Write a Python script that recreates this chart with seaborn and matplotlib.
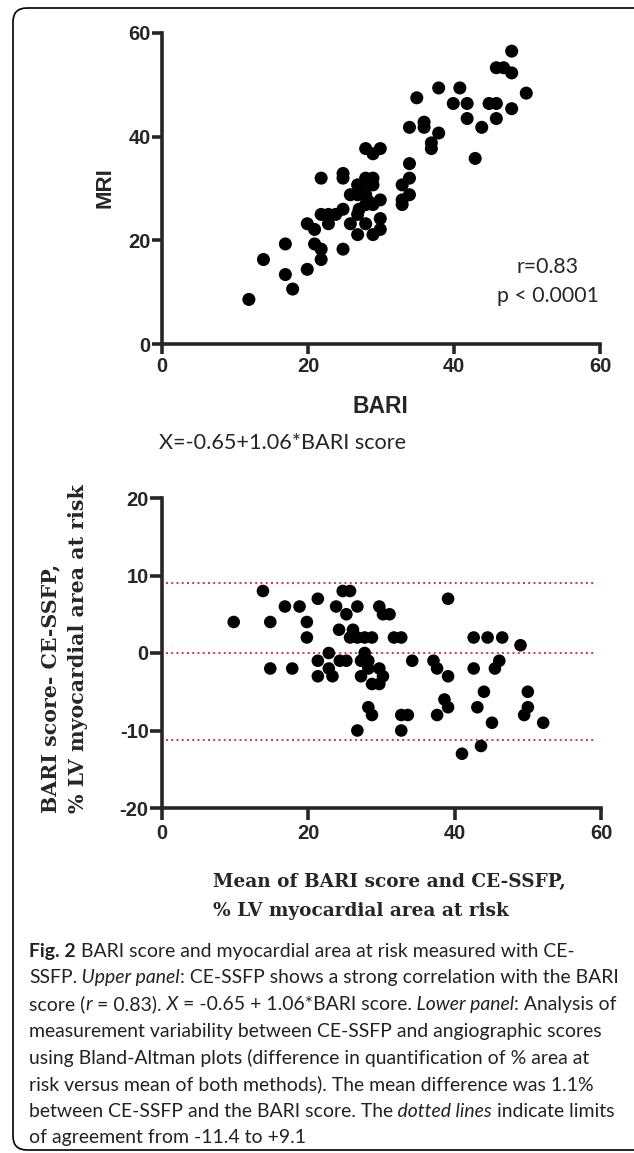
import numpy as np
import pandas as pd
import matplotlib
matplotlib.use("Agg")
import matplotlib.pyplot as plt
from matplotlib.patches import FancyBboxPatch
import seaborn as sns

# upper panel: BARI vs MRI
bari = [11.9, 13.9, 16.9, 16.9, 17.9, 19.9, 19.9, 20.9, 20.9, 21.8, 21.8, 21.8, 21.8,
        22.8, 22.8, 23.8, 24.8, 24.8, 24.8, 24.8, 25.8, 25.8, 26.8, 26.8, 26.8, 26.8,
        27.9, 27.9, 27.9, 27.9, 27.9, 28.9, 28.9, 28.9, 28.9, 28.9, 29.9, 29.9, 29.9,
        29.9, 32.9, 32.9, 32.9, 33.9, 33.9, 33.9, 33.9, 34.9, 35.9, 35.9, 36.9, 36.9,
        37.9, 37.9, 39.9, 40.8, 41.8, 41.8, 42.9, 43.8, 44.8, 45.8, 45.8, 45.8, 46.8,
        47.9, 47.9, 47.9, 49.9, 27.3, 28.3, 27.0]
mri = [8.6, 16.3, 19.3, 13.4, 10.6, 14.4, 23.2, 22.1, 19.3, 18.3, 16.3, 32.0, 25.0,
       25.0, 23.2, 25.0, 26.0, 18.3, 32.9, 32.0, 23.2, 28.8, 30.7, 28.8, 25.0, 21.1,
       37.7, 32.0, 28.8, 26.9, 23.2, 36.7, 32.0, 30.7, 26.9, 21.1, 37.7, 27.8, 24.2,
       22.1, 30.7, 27.8, 26.9, 34.8, 32.0, 28.8, 41.8, 47.5, 42.8, 41.8, 38.8, 37.7,
       40.7, 49.4, 46.4, 49.4, 46.4, 43.5, 35.8, 41.8, 46.4, 46.4, 43.5, 53.3, 53.3,
       52.3, 56.5, 45.4, 48.4, 30.0, 27.5, 26.0]

# lower panel: Bland-Altman
ba_mean = [9.8, 13.8, 14.8, 14.8, 16.8, 17.8, 18.8, 19.8, 19.8, 21.3, 21.3, 21.3, 22.8,
           22.8, 23.3, 23.8, 24.2, 24.3, 25.2, 24.7, 25.7, 25.2, 26.1, 25.7, 26.7, 26.7,
           27.7, 28.7, 27.7, 27.2, 28.2, 27.2, 28.2, 28.7, 29.7, 29.7, 30.2, 29.7, 30.2,
           31.1, 31.7, 32.7, 34.2, 37.1, 37.6, 39.1, 39.1, 42.6, 44.5, 46.5, 49.0, 42.6,
           45.5, 46.1, 44.0, 50.0, 28.2, 28.7, 32.7, 33.6, 37.6, 38.6, 39.1, 43.1, 50.0,
           49.5, 45.1, 52.1, 26.7, 32.7, 41.0, 43.6]
ba_diff = [4, 8, 4, -2, 6, -2, 6, 4, 2, 7, -1, -3, 0,
           -2, -3, 6, 3, -1, -1, 8, 8, 5, 3, 2, 6, 2,
           2, 2, 0, -1, -1, -3, -2, -4, -4, -2, -3, 6, 5,
           5, 2, 2, -1, -1, -2, -3, 7, 2, 2, 2, 1, -2,
           -2, -1, -5, -5, -7, -8, -8, -8, -8, -6, -7, -7, -7,
           -8, -9, -9, -10, -10, -13, -12]
ba_lines = [9.0, 0.0, -11.2]

caption = [
    [("Fig. 2", "normal", "bold"), (" BARI score and myocardial area at risk measured with CE-", "normal", "normal")],
    [("SSFP.", "normal", "normal"), (" Upper panel", "italic", "normal"),
     (": CE-SSFP shows a strong correlation with the BARI", "normal", "normal")],
    [("score (", "normal", "normal"), ("r", "italic", "normal"), (" = 0.83).", "normal", "normal"),
     (" X", "italic", "normal"), (" = -0.65 + 1.06*BARI score.", "normal", "normal"),
     (" Lower panel", "italic", "normal"), (": Analysis of", "normal", "normal")],
    [("measurement variability between CE-SSFP and angiographic scores", "normal", "normal")],
    [("using Bland-Altman plots (difference in quantification of % area at", "normal", "normal")],
    [("risk versus mean of both methods). The mean difference was 1.1%", "normal", "normal")],
    [("between CE-SSFP and the BARI score. The", "normal", "normal"), (" dotted lines", "italic", "normal"),
     (" indicate limits", "normal", "normal")],
    [("of agreement from -11.4 to +9.1", "normal", "normal")],
]

W, H = 634, 1153
sns.set_style("ticks")
plt.rcParams['font.family'] = ['Liberation Sans', 'DejaVu Sans']
plt.rcParams['axes.unicode_minus'] = False

fig = plt.figure(figsize=(W / 100, H / 100), dpi=100)
renderer = fig.canvas.get_renderer()

# overlay in pixel coords for frame and free text
bg = fig.add_axes([0, 0, 1, 1], zorder=-1)
bg.set_xlim(0, W)
bg.set_ylim(H, 0)
bg.axis("off")
bg.add_patch(FancyBboxPatch((13, 8), 700, 1142, boxstyle="round,pad=0,rounding_size=14",
                            fill=False, lw=1.2, ec="black"))


def fit_text(x, y, s, length, vertical=False, **kw):
    t = bg.text(x, y, s, fontsize=12, **kw)
    bb = t.get_window_extent(renderer)
    w = bb.height if vertical else bb.width
    t.set_fontsize(12 * length / w)
    return t


def style_axes(ax, tl):
    sns.despine(ax=ax)
    ax.set_facecolor("none")
    for s in ["left", "bottom"]:
        ax.spines[s].set_linewidth(2.6)
    ax.tick_params(width=2.6, length=tl, labelsize=14.5, pad=1)
    for lab in ax.get_xticklabels() + ax.get_yticklabels():
        lab.set_fontweight("bold")


# upper panel
ax1 = fig.add_axes([162 / W, 1 - 344 / H, 438 / W, 311 / H])
df1 = pd.DataFrame({"BARI": bari, "MRI": mri})
sns.scatterplot(data=df1, x="BARI", y="MRI", ax=ax1, color="black", s=88, edgecolor="none")
ax1.set_xlim(0, 60)
ax1.set_ylim(0, 60)
ax1.set_xticks([0, 20, 40, 60])
ax1.set_yticks([0, 20, 40, 60])
ax1.set_xlabel("")
ax1.set_ylabel("")
style_axes(ax1, 7.2)
ax1.tick_params(axis="x", pad=2.5)

bg.text(110, 188, "MRI", rotation=90, rotation_mode="anchor", ha="center", va="baseline",
        fontsize=16, fontweight="bold")
bg.text(380, 413, "BARI", ha="center", va="baseline", fontsize=16.5, fontweight="bold")
t_p = fit_text(548, 296, "p < 0.0001", 101, ha="center", va="center", family="Lato")
bg.text(547, 267, "r=0.83", ha="center", va="center", fontsize=t_p.get_fontsize(), family="Lato")
fit_text(159, 443, "X=-0.65+1.06*BARI score", 246, ha="left", va="center", family="Lato")

# lower panel
ax2 = fig.add_axes([162 / W, 1 - 808 / H, 439 / W, 310 / H])
df2 = pd.DataFrame({"mean": ba_mean, "diff": ba_diff})
sns.scatterplot(data=df2, x="mean", y="diff", ax=ax2, color="black", s=82, edgecolor="none", zorder=3)
ax2.hlines(ba_lines, 0.5, 59.3, colors="#e0303f", linestyles=(0, (1, 1.7)), lw=1.4, zorder=2)
ax2.set_xlim(0, 60)
ax2.set_ylim(-20, 20)
ax2.set_xticks([0, 20, 40, 60])
ax2.set_yticks([-20, -10, 0, 10, 20])
ax2.set_xlabel("")
ax2.set_ylabel("")
style_axes(ax2, 8.6)
ax2.tick_params(axis="x", pad=3)

serif = ["DejaVu Serif"]
lab = fit_text(56, 813, "% LV myocardial area at risk", 326, vertical=True, rotation=90,
               rotation_mode="anchor", ha="left", va="baseline", fontweight="bold", family=serif)
lab.set_position((84, 813))
bg.text(56, 813, "BARI score- CE-SSFP,", rotation=90, rotation_mode="anchor", ha="left",
        va="baseline", fontsize=lab.get_fontsize(), fontweight="bold", family=serif)
xl = fit_text(213, 887, "Mean of BARI score and CE-SSFP,", 352, ha="left", va="baseline",
              fontweight="bold", family=serif)
bg.text(213, 916, "% LV myocardial area at risk", ha="left", va="baseline",
        fontsize=xl.get_fontsize(), fontweight="bold", family=serif)

# caption, run by run; size chosen so that line 2 spans the reference width
probe = [bg.text(0, 0, r[0], fontsize=12, fontstyle=r[1], fontweight=r[2], family="Lato")
         for r in caption[1]]
cap_size = 12 * 588 / sum(p.get_window_extent(renderer).width for p in probe)
for p in probe:
    p.remove()

y0, dy = 951, 26.7
for i, runs in enumerate(caption):
    x = 29
    for txt, st, wt in runs:
        t = bg.text(x, y0 + i * dy, txt, ha="left", va="center", fontsize=cap_size,
                    fontstyle=st, fontweight=wt, family="Lato", color="#222222")
        x += t.get_window_extent(renderer).width

fig.savefig("out.png", dpi=100)
